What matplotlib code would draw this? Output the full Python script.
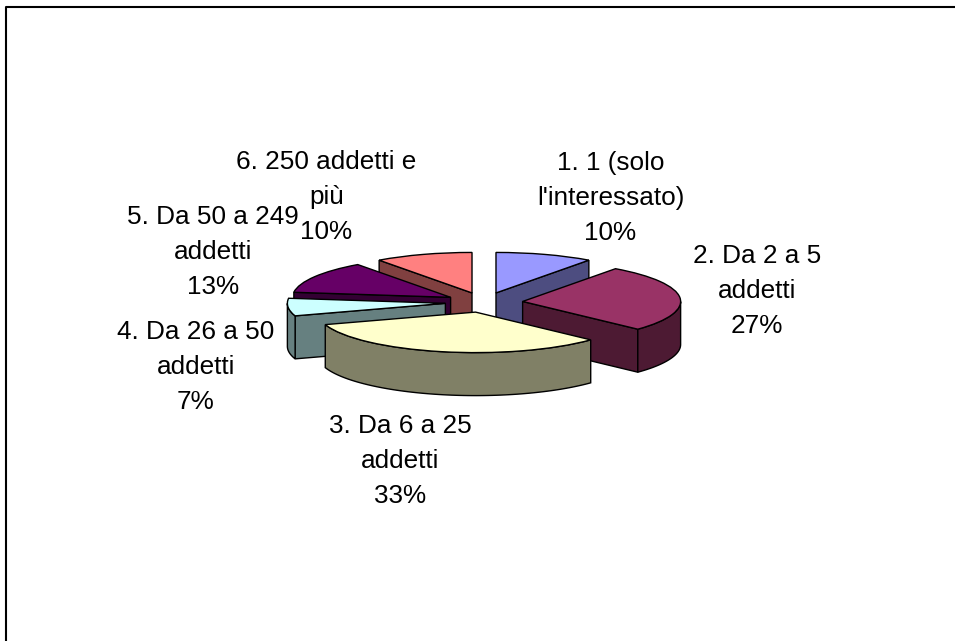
import numpy as np
import matplotlib
matplotlib.use('Agg')
import matplotlib.pyplot as plt

# Slices of the exploded 3D pie
labels = ['1. 1 (solo\nl\'interessato)', '2. Da 2 a 5\naddetti', '3. Da 6 a 25\naddetti',
          '4. Da 26 a 50\naddetti', '5. Da 50 a 249\naddetti', '6. 250 addetti e\npiù']
values = [10, 27, 33, 7, 13, 10]
top_colors = ['#9999FF', '#993366', '#FFFFCC', '#CCFFFF', '#660066', '#FF8080']
wall_colors = ['#4D4D80', '#4D1A33', '#808066', '#668080', '#330033', '#804040']

label_x = [610.5, 757, 400, 196, 213, 326.5]
label_y = [198, 291, 461, 367, 252, 197]
draw_order = [5, 0, 4, 1, 3, 2]  # back to front

W, H = 955, 641
radius = 158
squash = 158 / 40.5  # ellipse ratio of the tilted pie
depth = 43 * squash
line_gap = 34.7

plt.rcParams['font.family'] = ['Liberation Sans', 'DejaVu Sans']

fig = plt.figure(figsize=(W / 100, H / 100), dpi=100)
ax = fig.add_axes([0, 0, 1, 1])
wedges, _ = ax.pie(values, explode=[38.8] * 6, radius=radius, center=(484, (H - 302.4) * squash),
                   colors=top_colors, startangle=90, counterclock=False,
                   wedgeprops={'edgecolor': 'black', 'linewidth': 1.0})
ax.set_aspect('auto')
ax.set_xlim(0, W)
ax.set_ylim(0, H * squash)
ax.axis('off')

for rank, i in enumerate(draw_order):
    w = wedges[i]
    cx, cy = w.center
    z = 2 + rank * 2
    a = np.radians(np.linspace(w.theta1, w.theta2, 80))
    rim_x = cx + radius * np.cos(a)
    rim_y = cy + radius * np.sin(a)

    # cut faces, pushed down by the pie depth, only if they face the viewer
    for k, normal in [(0, w.theta1 - 90), (-1, w.theta2 + 90)]:
        if np.sin(np.radians(normal)) < -1e-6:
            ax.fill([cx, rim_x[k], rim_x[k], cx], [cy, rim_y[k], rim_y[k] - depth, cy - depth],
                    facecolor=wall_colors[i], edgecolor='black', linewidth=1.0, zorder=z)

    # outer wall, only the part facing the viewer
    front = np.sin(a) <= 0
    if front.any():
        fx = rim_x[front]
        fy = rim_y[front]
        ax.fill(np.r_[fx, fx[::-1]], np.r_[fy, fy[::-1] - depth],
                facecolor=wall_colors[i], edgecolor='black', linewidth=1.0, zorder=z)
    w.set_zorder(z + 1)

# one text per wrapped line, the labels 5 and 6 interlock in the reference
for i in range(len(values)):
    lines = (labels[i] + '\n' + str(values[i]) + '%').split('\n')
    for n, line in enumerate(lines):
        y = label_y[i] + (n - 1) * line_gap
        fig.text(label_x[i] / W, 1 - y / H, line, ha='center', va='center', fontsize=18.8, color='black')

# chart frame: only top and left show inside the picture
fig.add_artist(plt.Line2D([5.5 / W, 5.5 / W, 1], [0, 1 - 6.5 / H, 1 - 6.5 / H], color='black', linewidth=1.5))

fig.savefig('out.png', dpi=100)
